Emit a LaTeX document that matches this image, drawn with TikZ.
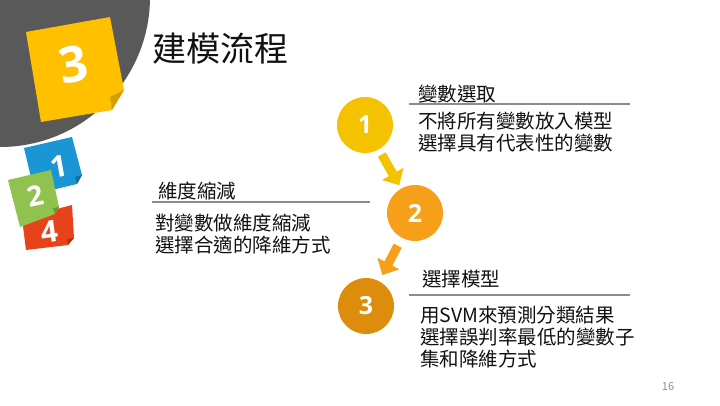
\documentclass[tikz,border=0pt]{standalone}
\usepackage{fontspec}
\setmainfont{Noto Sans CJK TC}
\newfontfamily\numfont{Open Sans}
\usetikzlibrary{arrows.meta}
\definecolor{bggray}{HTML}{595959}
\definecolor{notey}{HTML}{FFC000}
\definecolor{noteyd}{HTML}{D49E00}
\definecolor{noteb}{HTML}{1A96D4}
\definecolor{notebd}{HTML}{12709F}
\definecolor{noteg}{HTML}{8FC24F}
\definecolor{notegd}{HTML}{6C9638}
\definecolor{noter}{HTML}{E8421B}
\definecolor{noterd}{HTML}{B03010}
\definecolor{cone}{HTML}{F5C200}
\definecolor{ctwo}{HTML}{F6A01A}
\definecolor{cthree}{HTML}{DE8C0C}
\definecolor{rulegray}{HTML}{8C8C8C}
\definecolor{txt}{HTML}{111111}
\tikzset{
  stepcircle/.style={circle, minimum size=56pt, inner sep=0pt, outer sep=0pt,
    text=white, font=\numfont\bfseries\fontsize{25}{25}\selectfont},
  flowarrow/.style={line width=9pt, -{Triangle[length=13pt,width=24pt]}},
  heading/.style={anchor=west, inner sep=0pt, text=txt,
    font=\fontsize{19.5}{22}\selectfont},
  body/.style={anchor=west, inner sep=0pt, text=txt, align=left,
    font=\fontsize{19.5}{22}\selectfont},
  rule/.style={draw=rulegray, line width=1.8pt},
  notenum/.style={text=white, font=\numfont\bfseries, inner sep=0pt}
}
\begin{document}
\begin{tikzpicture}[x=1pt,y=-1pt]
\clip (0,0) rectangle (720,405);
\fill[white] (0,0) rectangle (720,405);
% gray quarter disc
\fill[bggray] (0,-3) circle (150);
% yellow note
\fill[notey] (26,32) -- (110,17) -- (124,90) -- (112,110) -- (41,122) -- cycle;
\fill[noteyd] (124,90) -- (112,110) -- (110,97) -- cycle;
\node[notenum, rotate=10, font=\numfont\bfseries\fontsize{50}{50}\selectfont] (n3) at (73,64) {3};
% blue note
\fill[noteb] (24,148) -- (72,137) -- (82,175) -- (77,184) -- (35,194) -- cycle;
\fill[notebd] (82,175) -- (77,184) -- (75,177) -- cycle;
\node[notenum, rotate=10, font=\numfont\bfseries\fontsize{30}{30}\selectfont] (n1) at (59,166) {1};
% red note
\fill[noter] (22,218) -- (72,205) -- (74,238) -- (68,245) -- (26,250) -- cycle;
\fill[noterd] (74,238) -- (68,245) -- (67,239) -- cycle;
\node[notenum, rotate=8, font=\numfont\bfseries\fontsize{30}{30}\selectfont] (n4) at (49,232) {4};
% green note
\fill[noteg] (8,180) -- (51,170) -- (59,207) -- (55,214) -- (20,227) -- cycle;
\fill[notegd] (59,207) -- (55,214) -- (53,208) -- cycle;
\node[notenum, rotate=12, font=\numfont\bfseries\fontsize{28}{28}\selectfont] (n2) at (35,196) {2};
% title
\node[anchor=west, inner sep=0pt, text=txt, font=\fontsize{34}{34}\selectfont] (title) at (152,49) {建模流程};
% step circles
\node[stepcircle, fill=cone] (c1) at (365,125) {1};
\node[stepcircle, fill=ctwo] (c2) at (415,213) {2};
\node[stepcircle, fill=cthree] (c3) at (366,306) {3};
\draw[flowarrow, draw=cone, shorten <=6pt, shorten >=4pt] (c1) -- (c2);
\draw[flowarrow, draw=ctwo, shorten <=9pt, shorten >=7pt] (c2) -- (c3);
% block 1
\node[heading] (h1) at (418,94) {變數選取};
\coordinate (r1a) at (409,104);
\coordinate (r1b) at (630,104);
\draw[rule] (r1a) -- (r1b);
\node[body] (b1) at (418,132) {不將所有變數放入模型\\選擇具有代表性的變數};
% block 2
\node[heading] (h2) at (158,191) {維度縮減};
\coordinate (r2a) at (152,202);
\coordinate (r2b) at (370,202);
\draw[rule] (r2a) -- (r2b);
\node[body] (b2) at (155,234) {對變數做維度縮減\\選擇合適的降維方式};
% block 3
\node[heading] (h3) at (422,279) {選擇模型};
\coordinate (r3a) at (409,295);
\coordinate (r3b) at (630,295);
\draw[rule] (r3a) -- (r3b);
\node[body] (b3) at (420,337) {用SVM來預測分類結果\\選擇誤判率最低的變數子\\集和降維方式};
% page number
\node[inner sep=0pt, text=rulegray, font=\fontsize{11}{11}\selectfont] (pg) at (668,387) {16};
\end{tikzpicture}
\end{document}
